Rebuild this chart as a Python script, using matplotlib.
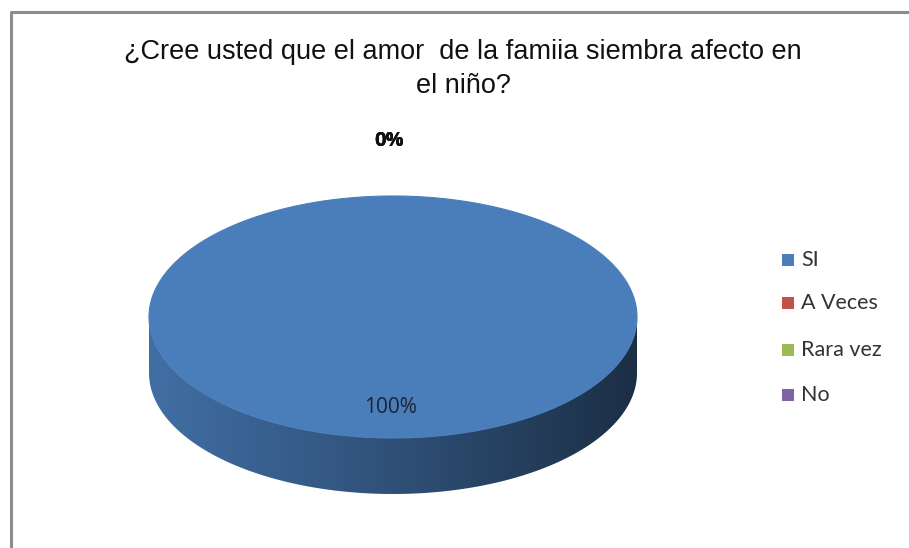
import numpy as np
import matplotlib
matplotlib.use("Agg")
import matplotlib.pyplot as plt
from matplotlib.patches import Polygon, Rectangle
from matplotlib.colors import LinearSegmentedColormap, to_rgb
from matplotlib.lines import Line2D

TITLE = "¿Cree usted que el amor  de la famiia siembra afecto en\nel niño?"
categories = ["SI", "A Veces", "Rara vez", "No"]
values = [100, 0, 0, 0]
colors = ["#4A7EBB", "#C0504D", "#9BBB59", "#8064A2"]

# pie geometry in pixel units of the canvas
cx, cy = 393, 317
rx, ry = 244, 121
depth = 56


def arc(p1, p2, n=400, dy=0.0):
    phi = np.linspace(p1, p2, n)
    return np.column_stack([cx + rx * np.sin(phi), cy - ry * np.cos(phi) + dy])


fig = plt.figure(figsize=(9.09, 5.48), dpi=100)
ax = fig.add_axes([0, 0, 1, 1])
ax.set_xlim(0, 909)
ax.set_ylim(548, 0)
ax.axis("off")

# chart frame
fig.add_artist(Line2D([11 / 909, 11 / 909, 1.0], [0.0, 1 - 12 / 548, 1 - 12 / 548],
                      transform=fig.transFigure, color="#8c8c8c", lw=2.2))

total = float(sum(values))
fracs = [v / total for v in values]
starts = np.concatenate([[0.0], np.cumsum(fracs)[:-1]]) * 2 * np.pi
ends = np.cumsum(fracs) * 2 * np.pi

# sides (front half only)
for s, e, col in zip(starts, ends, colors):
    a1, a2 = max(s, np.pi / 2), min(e, 3 * np.pi / 2)
    if a2 <= a1:
        continue
    top = arc(a1, a2)
    bot = arc(a2, a1, dy=depth)
    poly = Polygon(np.vstack([top, bot]), closed=True, facecolor="none", edgecolor="none")
    ax.add_patch(poly)
    base = np.array(to_rgb(col))
    cmap = LinearSegmentedColormap.from_list("side", [base * 0.88, base * 0.64, base * 0.37])
    grad = np.linspace(0, 1, 256).reshape(1, -1)
    xs = np.vstack([top, bot])[:, 0]
    ys = np.vstack([top, bot])[:, 1]
    im = ax.imshow(grad, cmap=cmap, aspect="auto",
                   extent=[xs.min(), xs.max(), ys.max(), ys.min()], zorder=2)
    im.set_clip_path(poly)

# top faces
for s, e, col in zip(starts, ends, colors):
    if e - s <= 0:
        continue
    pts = arc(s, e)
    if e - s < 2 * np.pi - 1e-9:
        pts = np.vstack([[cx, cy], pts])
    ax.add_patch(Polygon(pts, closed=True, facecolor=col, edgecolor=col, lw=0.8, zorder=3))

# data labels
for s, e, v in zip(starts, ends, values):
    m = (s + e) / 2
    pct = f"{v / total:.0%}"
    if v > 0:
        x, y = cx + 0.75 * rx * np.sin(m), cy - 0.75 * ry * np.cos(m)
        ax.text(x - 3, y, pct, ha="center", va="center", fontsize=15,
                family="Open Sans", color="#1c2433", zorder=5)
    else:
        x, y = cx + 1.46 * rx * np.sin(m), cy - 1.46 * ry * np.cos(m)
        ax.text(x - 4, y + 1, pct, ha="center", va="center", fontsize=14.5,
                family="Open Sans", fontweight="bold", color="#111111", zorder=5)

ax.text(463, 69, TITLE, ha="center", va="center", fontsize=19.5,
        family="Liberation Sans", color="#111111", linespacing=1.4)

# legend
leg_y = [260, 303, 350, 395]
for cat, col, y in zip(categories, colors, leg_y):
    ax.add_patch(Rectangle((782, y - 6), 12, 12, facecolor=col, edgecolor="none"))
    ax.text(801, y, cat, ha="left", va="center", fontsize=15.5, family="Lato", color="#333333")

fig.savefig("out.png", dpi=100)
